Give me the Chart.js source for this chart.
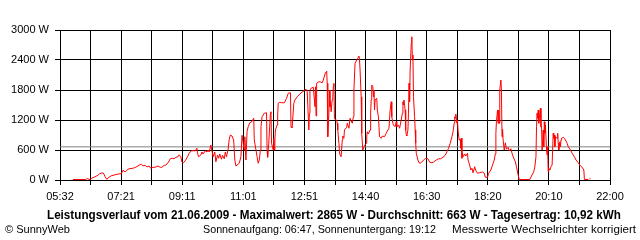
<!DOCTYPE html>
<html><head><meta charset="utf-8">
<script src="https://cdn.jsdelivr.net/npm/chart.js@4/dist/chart.umd.min.js"></script>
<style>
html,body{margin:0;padding:0;background:#fff;}
#wrap{position:relative;width:640px;height:240px;overflow:hidden;background:#fff;}
#c{position:absolute;left:0;top:0;}
.t{position:absolute;font-family:"Liberation Sans",Arial,sans-serif;font-size:11px;color:#000;white-space:nowrap;line-height:12px;transform-origin:0 0;}
#title{font-weight:bold;font-size:12px;line-height:13px;}
</style>
</head><body>
<div id="wrap">
<canvas id="c" width="640" height="240"></canvas>
<div class="t" id="title" data-l="47" data-r="621" data-top="209">Leistungsverlauf vom 21.06.2009 - Maximalwert: 2865 W - Durchschnitt: 663 W - Tagesertrag: 10,92 kWh</div>
<div class="t" data-l="5" data-r="70" data-top="223">© SunnyWeb</div>
<div class="t" data-l="203" data-r="436" data-top="223">Sonnenaufgang: 06:47, Sonnenuntergang: 19:12</div>
<div class="t" data-l="452" data-r="636" data-top="223">Messwerte Wechselrichter korrigiert</div>
</div>
<script>
// Tick labels of the time axis (every second grid line)
const timeLabels = ["05:32","07:21","09:11","11:01","12:51","14:40","16:30","18:20","20:10","22:00"];
// Power axis ticks (W)
const powerTicks = [0, 600, 1200, 1800, 2400, 3000];
// Daily average power (W)
const averagePower = 663;
// Sample times, minutes after midnight
const sampleMinutes = [
355,378,381,386,388,395,400,403,407,410,413,416,420,424,431,437,442,445,449,452,456,463,468,474,478,481,485,488,492,495,499,503,508,512,515,519,522,527,530,533,537,540,544,546,549,551,554,557,561,564,568,575,578,579,581,585,587,589,593,596,598,600,603,605,607,610,612,615,617,619,622,624,627,629,631,634,636,638,641,644,646,648,650,654,657,659,662,663,664,666,668,670,673,676,680,681,684,686,688,690,692,693,695,699,703,704,705,707,710,711,712,715,716,717,718,719,722,723,724,727,730,735,739,742,746,747,748,749,752,754,758,763,767,772,774,776,779,780,781,783,787,790,791,792,793,797,800,803,805,808,810,811,812,813,815,816,817,818,819,821,822,823,824,825,827,829,830,831,833,834,835,837,839,840,842,843,847,848,851,853,855,857,859,860,862,865,867,869,870,871,873,874,876,878,880,882,883,884,886,889,890,891,892,894,895,896,897,898,901,902,904,906,909,911,915,918,921,923,925,927,928,930,931,934,936,937,940,942,945,947,948,949,950,952,953,954,955,957,958,959,960,961,963,964,965,966,967,969,970,971,972,975,977,979,982,985,989,993,996,1000,1003,1008,1012,1016,1020,1024,1027,1030,1033,1036,1038,1040,1041,1042,1043,1045,1046,1047,1049,1051,1052,1053,1054,1055,1056,1059,1061,1064,1065,1067,1070,1072,1074,1077,1079,1082,1085,1091,1094,1096,1100,1102,1106,1109,1112,1114,1115,1116,1118,1119,1120,1121,1122,1124,1125,1126,1127,1128,1130,1132,1134,1137,1139,1142,1144,1146,1150,1152,1155,1157,1167,1176,1179,1183,1185,1187,1188,1189,1190,1191,1192,1194,1195,1196,1197,1198,1200,1201,1202,1203,1204,1206,1207,1208,1209,1210,1212,1214,1216,1218,1219,1220,1221,1222,1225,1226,1227,1228,1230,1231,1232,1233,1236,1238,1240,1243,1245,1249,1252,1256,1259,1263,1267,1270,1273,1274,1281,1282,1283,1285
];
// Measured power (W)
const sampleWatts = [
10,10,30,5,30,65,95,125,140,140,65,15,55,85,105,120,125,195,160,195,225,235,255,295,315,285,295,260,280,235,255,255,280,255,255,295,295,360,425,435,425,455,465,505,465,360,345,385,465,535,585,585,635,535,465,500,560,520,585,560,600,560,700,585,465,560,365,500,435,520,415,495,425,560,465,615,815,900,880,800,400,280,300,335,465,895,665,600,865,400,965,1065,1145,1160,1235,800,600,465,335,400,600,1065,1265,1335,1345,600,455,735,1335,1365,735,600,835,600,800,1000,1100,1300,1535,1555,1545,1545,1635,1735,1745,1055,1065,1040,1535,1600,1665,1720,1760,1800,1815,1785,1000,1335,1800,1835,1855,1465,1865,1280,1935,1965,1960,1945,2000,2120,2160,2175,1935,865,1335,1800,1465,1565,1365,1600,1665,1865,1935,1235,1200,1200,1135,1000,735,565,500,465,800,880,835,1000,1055,1135,1035,1235,1185,1135,1265,1800,2335,2400,2435,2480,2415,2200,1665,935,600,665,700,735,865,965,920,1000,1335,1600,1900,1865,1665,1800,1400,1600,1635,1400,1265,865,835,880,865,935,1000,1035,1400,1565,1265,1135,1100,1065,1165,1065,1100,1035,1200,1335,1565,1500,1600,1400,1000,900,880,1000,1335,1935,1565,2200,2735,2865,2400,2500,1665,1265,1000,735,535,400,345,335,360,400,435,425,355,345,360,400,425,425,455,495,565,635,735,865,965,1135,1265,1235,1320,1135,1200,1000,800,815,635,835,435,535,465,520,480,535,400,335,200,235,145,265,185,135,145,160,135,55,55,135,200,300,400,520,935,1165,1400,1135,1400,1135,1800,2000,1800,865,1015,800,600,745,615,655,585,625,535,465,365,265,100,10,10,10,80,165,265,465,1065,1335,1235,1400,1135,1335,1435,1065,1080,600,1000,665,1165,935,1100,600,500,665,165,235,200,265,300,935,835,900,665,865,835,935,735,600,765,665,800,835,855,835,800,735,665,600,535,465,400,345,280,255,200,10,10,null,25,25
];

function toMin(s){ const p = s.split(':'); return (+p[0]) * 60 + (+p[1]); }
const xMin = toMin(timeLabels[0]);
const xMax = toMin(timeLabels[timeLabels.length - 1]);
const gridCount = (timeLabels.length - 1) * 2;
const gridStep = (xMax - xMin) / gridCount;

const powerPoints = sampleMinutes.map((m, i) => ({ x: m, y: sampleWatts[i] }));
const avgPoints = [{ x: xMin, y: averagePower }, { x: xMax, y: averagePower }];

const tickFont = { family: "'Liberation Sans', Arial, sans-serif", size: 11 };

new Chart(document.getElementById('c'), {
  type: 'line',
  data: {
    datasets: [
      { data: powerPoints, borderColor: '#ff0000', borderWidth: 1, pointRadius: 0, tension: 0, spanGaps: false, order: 1 },
      { data: avgPoints, borderColor: '#808080', borderWidth: 1, pointRadius: 0, tension: 0, order: 2 }
    ]
  },
  options: {
    responsive: false,
    animation: false,
    events: [],
    layout: { padding: { top: 30, right: 30, bottom: 40, left: 0 } },
    plugins: { legend: { display: false }, tooltip: { enabled: false }, title: { display: false } },
    scales: {
      x: {
        type: 'linear',
        min: xMin, max: xMax,
        afterBuildTicks: (scale) => {
          const t = [];
          for (let i = 0; i <= gridCount; i++) t.push({ value: xMin + i * gridStep });
          scale.ticks = t;
        },
        afterFit: (scale) => { scale.height = 20; },
        grid: { color: '#000', lineWidth: 1, tickLength: 5, drawTicks: true },
        border: { color: '#000', width: 1 },
        ticks: {
          autoSkip: false, maxRotation: 0, minRotation: 0, padding: 5,
          color: '#000', font: tickFont,
          callback: (v, i) => (i % 2 === 0 ? timeLabels[i / 2] : '')
        }
      },
      y: {
        min: powerTicks[0], max: powerTicks[powerTicks.length - 1],
        afterBuildTicks: (scale) => { scale.ticks = powerTicks.map(v => ({ value: v })); },
        afterFit: (scale) => { scale.width = 60; },
        grid: { color: '#000', lineWidth: 1, tickLength: 5, drawTicks: true },
        border: { color: '#000', width: 1 },
        ticks: { padding: 6, color: '#000', font: tickFont, callback: (v) => v + ' W' }
      }
    }
  }
});

// Fit the text lines horizontally to their measured extents
document.querySelectorAll('.t').forEach(el => {
  const l = +el.dataset.l, r = +el.dataset.r;
  el.style.left = l + 'px';
  el.style.top = el.dataset.top + 'px';
  const w = el.getBoundingClientRect().width;
  el.style.transform = 'scaleX(' + ((r - l) / w) + ')';
});
</script>
</body></html>
